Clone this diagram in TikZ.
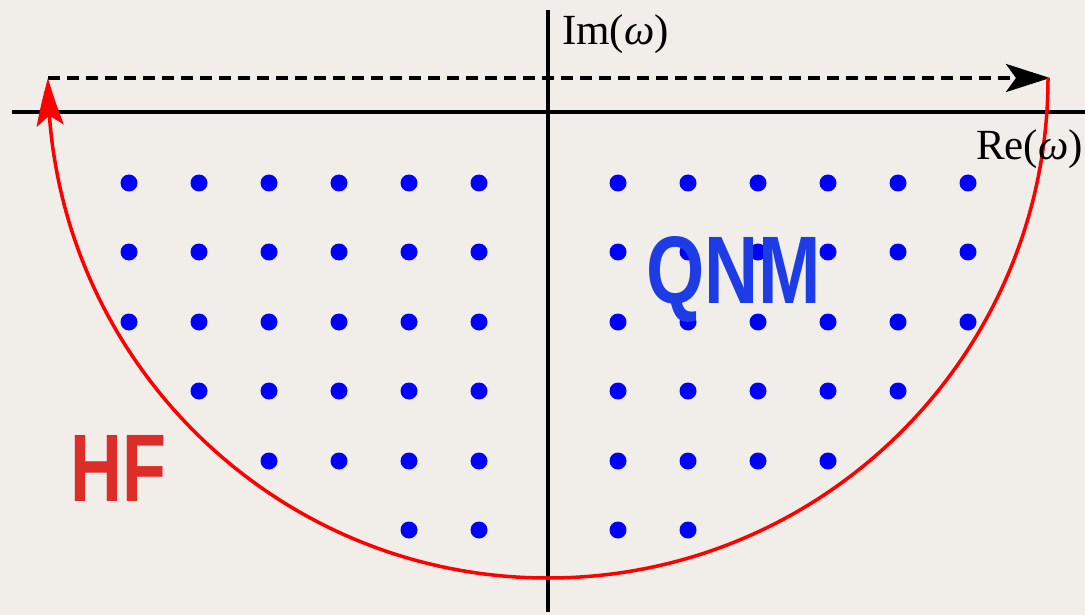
\documentclass[tikz,border=0pt]{standalone}
\usepackage{fontspec}
\setmainfont{Liberation Serif}
\newfontfamily\labelsans{Liberation Sans}
\usetikzlibrary{arrows.meta,bending}
\definecolor{bgcol}{RGB}{241,238,233}
\definecolor{hfred}{RGB}{220,45,40}
\definecolor{qnmblue}{RGB}{30,60,230}
\tikzset{
  axisline/.style={line width=3.5pt,black},
  contour/.style={line width=3.5pt,red},
  pole/.style={circle,fill=blue,inner sep=0pt,minimum size=17pt},
  axislabel/.style={anchor=base west,inner sep=0pt,font=\fontsize{43}{43}\selectfont},
  biglabel/.style={anchor=base west,inner sep=0pt,font=\labelsans\bfseries\fontsize{96}{96}\selectfont}
}
\begin{document}
\begin{tikzpicture}[x=1pt,y=-1pt]
\useasboundingbox[fill=bgcol] (0,0) rectangle (1085,615);
% axes
\coordinate (xl) at (12,112);
\coordinate (xr) at (1085,112);
\coordinate (yt) at (548,10);
\coordinate (yb) at (548,612);
\draw[axisline] (xl) -- (xr);
\draw[axisline] (yt) -- (yb);
% poles
\foreach \x in {129,199,269,339,409,479,618,688,758,828,898,968}{
  \node[pole] at (\x,183) {};
  \node[pole] at (\x,252) {};
  \node[pole] at (\x,322) {};
}
\foreach \x in {199,269,339,409,479,618,688,758,828,898}{
  \node[pole] at (\x,391) {};
}
\foreach \x in {269,339,409,479,618,688,758,828}{
  \node[pole] at (\x,461) {};
}
\foreach \x in {409,479,618,688}{
  \node[pole] at (\x,530) {};
}
% contour
\coordinate (cl) at (48,78);
\coordinate (cr) at (1050,78);
\coordinate (ar) at (1048,78);
\draw[line width=3.5pt,dash pattern=on 12pt off 7pt,-{Stealth[length=44pt,width=28pt,inset=10pt]}] (cl) -- (cr);
\draw[contour,-{Stealth[length=48pt,width=27pt,inset=10pt,bend]}] (ar) arc[start angle=0,end angle=180,radius=500];
% labels
\node[axislabel] (im) at (562,45) {Im(\textit{ω})};
\node[axislabel] (re) at (976,160) {Re(\textit{ω})};
\node[biglabel,text=hfred] (hf) at (70,501) {\scalebox{0.75}[1]{HF}};
\node[biglabel,text=qnmblue] (qnm) at (646,303) {\scalebox{0.78}[1]{QNM}};
\end{tikzpicture}
\end{document}
